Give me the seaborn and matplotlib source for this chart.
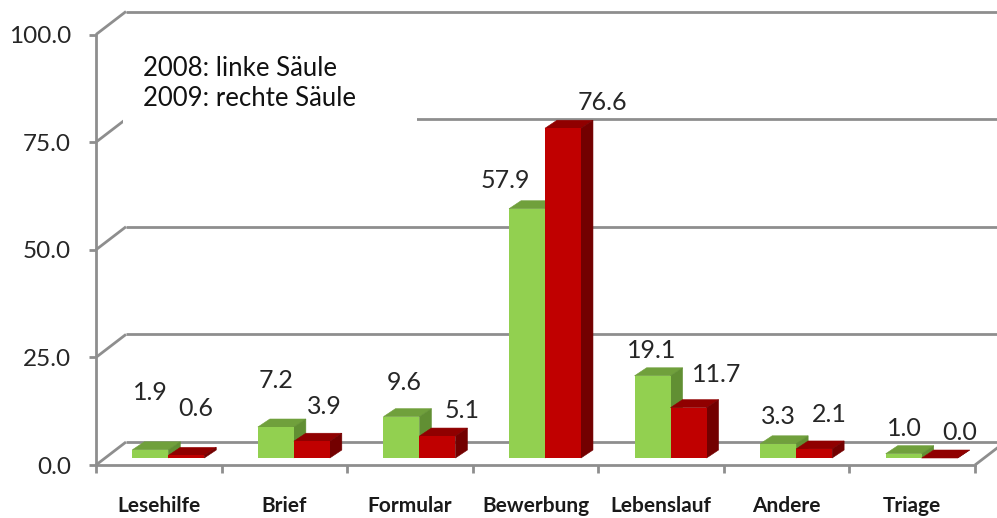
import matplotlib
matplotlib.use('Agg')
import matplotlib.pyplot as plt
from matplotlib.patches import Polygon, Rectangle
from matplotlib.transforms import Affine2D
import pandas as pd
import seaborn as sns

categories = ['Lesehilfe', 'Brief', 'Formular', 'Bewerbung', 'Lebenslauf', 'Andere', 'Triage']
values_2008 = [1.9, 7.2, 9.6, 57.9, 19.1, 3.3, 1.0]
values_2009 = [0.6, 3.9, 5.1, 76.6, 11.7, 2.1, 0.0]
y_ticks = [0, 25, 50, 75, 100]

# label centres in image pixels, the original places them by hand
label_pos_2008 = [(150, 392), (276, 380), (404, 383), (505, 181), (652, 351), (778, 417), (904, 428)]
label_pos_2009 = [(196, 409), (324, 407), (462, 411), (602, 103), (717, 374), (829, 414), (960, 433)]

WIDTH, HEIGHT = 997, 518
LEFT, RIGHT, TOP, BOTTOM = 96, 975, 34.5, 465
WALL_DX, WALL_DY = 30, 23
DEPTH_DX, DEPTH_DY = 12, 8
GRID = '#8E8E8E'
TEXT = '#262626'

sns.set_theme(style='white')
plt.rcParams['font.family'] = ['Lato', 'DejaVu Sans']

df = pd.DataFrame({
    'kategorie': categories * 2,
    'wert': values_2008 + values_2009,
    'jahr': ['2008'] * 7 + ['2009'] * 7,
})

fig = plt.figure(figsize=(WIDTH / 100, HEIGHT / 100), dpi=100)
ax = fig.add_axes([LEFT / WIDTH, 1 - BOTTOM / HEIGHT, (RIGHT - LEFT) / WIDTH, (BOTTOM - TOP) / HEIGHT])

sns.barplot(data=df, x='kategorie', y='wert', hue='jahr', order=categories,
            palette={'2008': '#92D050', '2009': '#C00000'},
            width=0.573, gap=0, legend=False, linewidth=0, saturation=1, ax=ax, zorder=3)

ax.set_xlim(-0.5, 6.5)
ax.set_ylim(0, 100)
ax.set_xlabel('')
ax.set_ylabel('')

# pixels to data units, needed for the fake 3d look
px_x = 7 / (RIGHT - LEFT)
px_y = 100 / (BOTTOM - TOP)

shift = 9.5 * px_x
base = 7 * px_y
dx = DEPTH_DX * px_x
dy = DEPTH_DY * px_y

shades = [('#70A03C', '#618F33'), ('#900000', '#730000')]
for n, (container, (top_col, side_col)) in enumerate(zip(ax.containers, shades)):
    for bar in container:
        bar.set_x(bar.get_x() + shift)
        bar.set_y(base)
        bar.set_zorder(3.5 + n)
        x0, x1 = bar.get_x(), bar.get_x() + bar.get_width()
        y0, y1 = base, base + bar.get_height()
        ax.add_patch(Polygon([(x0, y1), (x1, y1), (x1 + dx, y1 + dy), (x0 + dx, y1 + dy)],
                             facecolor=top_col, edgecolor=top_col, lw=0.4, zorder=3 + n))
        ax.add_patch(Polygon([(x1, y0), (x1 + dx, y0 + dy), (x1 + dx, y1 + dy), (x1, y1)],
                             facecolor=side_col, edgecolor=side_col, lw=0.4, zorder=3 + n))

# back wall lines and the diagonals running back from the axes
back = ax.transData + Affine2D().translate(WALL_DX, WALL_DY)
line_kw = dict(color=GRID, lw=2.0, clip_on=False, zorder=1, solid_capstyle='butt')
for v in y_ticks:
    ax.plot([-0.5, 6.5], [v, v], transform=back, **line_kw)
    diag = ax.transData.transform([(-0.5, v), (-0.5, v)]) + [(0, 0), (WALL_DX, WALL_DY)]
    ax.plot(diag[:, 0], diag[:, 1], transform=None, **line_kw)
floor = ax.transData.transform([(6.5, 0), (6.5, 0)]) + [(0, 0), (WALL_DX, WALL_DY)]
ax.plot(floor[:, 0], floor[:, 1], transform=None, **line_kw)

sns.despine(ax=ax, top=True, right=True)
for side in ['left', 'bottom']:
    ax.spines[side].set_color(GRID)
    ax.spines[side].set_linewidth(2.0)
    ax.spines[side].set_zorder(2)

ax.set_yticks(y_ticks)
ax.set_yticklabels([f'{v:.1f}' for v in y_ticks], fontsize=17.5, color=TEXT)
ax.set_xticks([i - 0.5 for i in range(8)])
ax.set_xticklabels([])
ax.set_xticks(range(7), minor=True)
ax.set_xticklabels(categories, minor=True, fontsize=15, fontweight='bold', color='#1a1a1a')
ax.tick_params(axis='y', left=True, length=5, width=2.0, color=GRID, pad=13)
ax.tick_params(axis='x', which='major', bottom=True, length=6, width=2.0, color=GRID)
ax.tick_params(axis='x', which='minor', bottom=False, length=0, pad=22)

# image pixel coordinates, origin top left
img = Affine2D().scale(1, -1).translate(0, HEIGHT)

# white text box of the original hides part of the grid
fig.add_artist(Rectangle((123, 40), 294, 83, transform=img, facecolor='white', edgecolor='none', zorder=1))

for vals, positions in [(values_2008, label_pos_2008), (values_2009, label_pos_2009)]:
    for v, (px, py) in zip(vals, positions):
        fig.text(px, py, f'{v:.1f}', transform=img, ha='center', va='center',
                 fontsize=18, color=TEXT, zorder=5)

fig.text(143, 69, '2008: linke Säule', transform=img, va='center', fontsize=18.5, color='#111111', zorder=5)
fig.text(143, 99, '2009: rechte Säule', transform=img, va='center', fontsize=18.5, color='#111111', zorder=5)

fig.savefig('out.png', dpi=100, facecolor='white')
plt.close(fig)
